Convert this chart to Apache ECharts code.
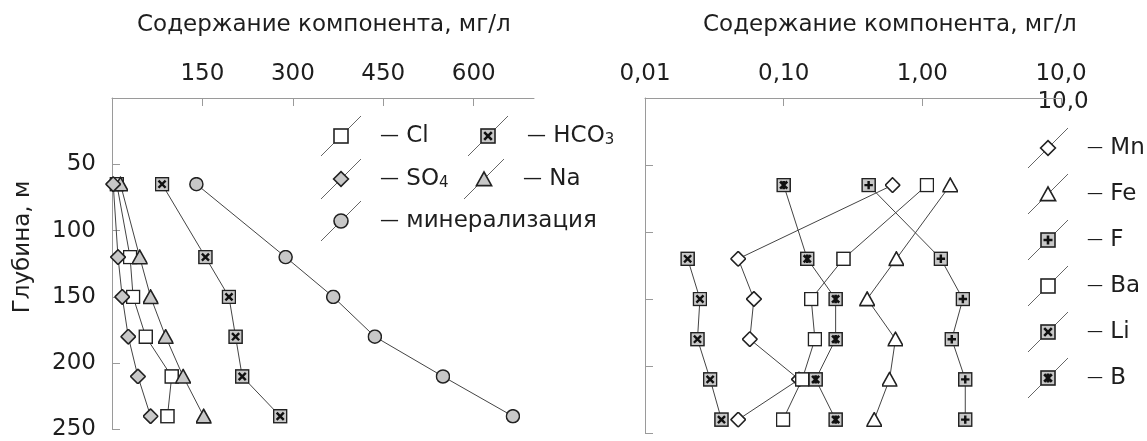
<!DOCTYPE html>
<html><head><meta charset="utf-8">
<script src="https://cdn.jsdelivr.net/npm/echarts@6/dist/echarts.min.js"></script>
<style>html,body{margin:0;padding:0;background:#fff}#c{width:1147px;height:441px}</style>
</head><body><div id="c"></div>
<script>
// ---- data ----
const depths = [65, 120, 150, 180, 210, 240];
const cl = [8, 30, 35, 56, 99, 92];
const so4 = [2, 10, 17, 27, 43, 64];
const na = [14, 46, 64, 89, 118, 152];
const hco3 = [83, 155, 194, 205, 216, 279];
const mineral = [140, 288, 367, 436, 549, 665];
const mn = [0.61, 0.047, 0.061, 0.057, 0.129, 0.047];
const fe = [1.59, 0.65, 0.40, 0.64, 0.58, 0.45];
const fl = [0.41, 1.36, 1.96, 1.63, 2.04, 2.04];
const ba = [1.08, 0.27, 0.158, 0.168, 0.136, 0.099];
const li = [null, 0.0203, 0.0249, 0.0239, 0.0295, 0.0356];
const bor = [0.10, 0.148, 0.237, 0.237, 0.170, 0.237];
const leftTicks = [150, 300, 450, 600];
const rightTicks = [0.01, 0.1, 1, 10];
const rightTickLabels = ['0,01', '0,10', '1,00', '10,0'];
const depthTicks = [50, 100, 150, 200, 250];

// ---- marker drawing (SVG icons) ----
const GRAY = '#c8c8c8', WHITE = '#ffffff', STK = '#222', SW = 1.6;
function shape(kind, cx, cy) {
  const sq = (fill) => `<rect x="${cx-7}" y="${cy-7}" width="14" height="14" fill="${fill}" stroke="${STK}" stroke-width="${SW}"/>`;
  const xm = `<path d="M${cx-3.8},${cy-3.8}L${cx+3.8},${cy+3.8}M${cx+3.8},${cy-3.8}L${cx-3.8},${cy+3.8}" stroke="#111" stroke-width="2.6"/>`;
  const pm = `<path d="M${cx},${cy-4.5}L${cx},${cy+4.5}M${cx-4.5},${cy}L${cx+4.5},${cy}" stroke="#111" stroke-width="2.6"/>`;
  const am = `<path d="M${cx-3.8},${cy-3.8}L${cx+3.8},${cy+3.8}M${cx+3.8},${cy-3.8}L${cx-3.8},${cy+3.8}M${cx},${cy-4.5}L${cx},${cy+4.5}" stroke="#111" stroke-width="2.8"/>`;
  const dia = (fill) => `<polygon points="${cx},${cy-7.4} ${cx+7.4},${cy} ${cx},${cy+7.4} ${cx-7.4},${cy}" fill="${fill}" stroke="${STK}" stroke-width="${SW}" stroke-linejoin="miter"/>`;
  const tri = (fill) => `<polygon points="${cx},${cy-7} ${cx+7.6},${cy+6.6} ${cx-7.6},${cy+6.6}" fill="${fill}" stroke="${STK}" stroke-width="${SW}"/>`;
  switch (kind) {
    case 'sqW': return sq(WHITE);
    case 'sqX': return sq(GRAY) + xm;
    case 'sqP': return sq(GRAY) + pm;
    case 'sqA': return sq(GRAY) + am;
    case 'diaG': return dia(GRAY);
    case 'diaW': return dia(WHITE);
    case 'triG': return tri(GRAY);
    case 'triW': return tri(WHITE);
    case 'cirG': return `<circle cx="${cx}" cy="${cy}" r="7" fill="${GRAY}" stroke="${STK}" stroke-width="${SW}"/>`;
  }
}
function uri(svg) { return 'image://data:image/svg+xml;charset=utf-8,' + encodeURIComponent(svg); }
function markerIcon(kind) {
  return uri(`<svg xmlns="http://www.w3.org/2000/svg" width="32" height="32" viewBox="0 0 16 16">${shape(kind, 8, 8)}</svg>`);
}
function legendIcon(kind) {
  return uri(`<svg xmlns="http://www.w3.org/2000/svg" width="108" height="80" viewBox="0 0 54 40"><line x1="0" y1="40" x2="40" y2="0" stroke="#666" stroke-width="1"/>${shape(kind, 20, 20)}</svg>`);
}

const FONT = '"DejaVu Sans", "Liberation Sans", Arial, sans-serif';
const FS = 23;
const TXT = '#1e1e1e';
const AX = '#9a9a9a';

function mk(name, vals, kind, gi, size) {
  const data = [];
  vals.forEach((v, i) => { if (v != null) data.push([v, depths[i]]); });
  return {
    name, type: 'line', xAxisIndex: gi, yAxisIndex: gi, data,
    symbol: markerIcon(kind), symbolSize: size || 15,
    lineStyle: { color: '#444', width: 1 },
    itemStyle: { color: '#888' },
    emphasis: { disabled: true }, silent: true, animation: false
  };
}
const kinds = { 'Cl': 'sqW', 'HCO3': 'sqX', 'SO4': 'diaG', 'Na': 'triG', 'минерализация': 'cirG',
  'Mn': 'diaW', 'Fe': 'triW', 'F': 'sqP', 'Ba': 'sqW', 'Li': 'sqX', 'B': 'sqA' };

function fmtName(n) {
  if (n === 'HCO3') return '{d|—} HCO{s|3}';
  if (n === 'SO4') return '{d|—} SO{s|4}';
  return '{d|—} ' + n;
}
function leg(names, left, top, orient, gap, dashSize) {
  return {
    data: names.map(n => ({ name: n, icon: legendIcon(kinds[n]) })),
    left, top, orient: orient || 'horizontal', itemGap: gap || 10,
    padding: 0, itemWidth: 54, itemHeight: 40, selectedMode: false,
    formatter: fmtName,
    textStyle: { fontSize: FS, color: TXT, fontFamily: FONT,
      rich: {
        s: { fontSize: 15, color: TXT, fontFamily: FONT, padding: [9, 0, 0, 0] },
        d: { fontSize: dashSize || 19, color: TXT, fontFamily: FONT }
      } }
  };
}

const axisCommon = {
  axisLine: { show: true, lineStyle: { color: AX, width: 1 } },
  axisTick: { show: true, inside: true, length: 8, lineStyle: { color: AX } },
  splitLine: { show: false },
  axisLabel: { fontSize: FS, color: TXT, fontFamily: FONT }
};

const chart = echarts.init(document.getElementById('c'));
chart.setOption({
  animation: false,
  backgroundColor: '#fff',
  title: [
    { text: 'Содержание компонента, мг/л', left: 137, top: 14, padding: 0,
      textStyle: { fontSize: FS, fontWeight: 'normal', color: TXT, fontFamily: FONT } },
    { text: 'Содержание компонента, мг/л', left: 703, top: 14, padding: 0,
      textStyle: { fontSize: FS, fontWeight: 'normal', color: TXT, fontFamily: FONT } }
  ],
  grid: [
    { left: 112, top: 98, width: 422, height: 335 },
    { left: 645, top: 98, width: 416, height: 335 }
  ],
  xAxis: [
    Object.assign({}, axisCommon, {
      type: 'value', gridIndex: 0, position: 'top', min: 0, max: 700, interval: 150,
      axisTick: Object.assign({}, axisCommon.axisTick, { customValues: leftTicks }),
      axisLabel: Object.assign({}, axisCommon.axisLabel, { margin: 12, customValues: leftTicks,
        formatter: v => leftTicks.indexOf(v) >= 0 ? String(v) : '' })
    }),
    Object.assign({}, axisCommon, {
      type: 'log', logBase: 10, gridIndex: 1, position: 'top', min: 0.01, max: 10,
      minorTick: { show: false },
      axisLabel: Object.assign({}, axisCommon.axisLabel, { margin: 12,
        formatter: v => { const i = rightTicks.findIndex(t => Math.abs(t - v) / t < 1e-6); return i >= 0 ? rightTickLabels[i] : ''; } })
    })
  ],
  yAxis: [
    Object.assign({}, axisCommon, {
      type: 'value', gridIndex: 0, inverse: true, min: 0, max: 250, interval: 50,
      axisLabel: Object.assign({}, axisCommon.axisLabel, { margin: 16,
        formatter: v => depthTicks.indexOf(v) >= 0 ? String(v) : '' })
    }),
    Object.assign({}, axisCommon, {
      type: 'value', gridIndex: 1, inverse: true, min: 0, max: 250, interval: 50,
      axisLabel: { show: false }
    })
  ],
  legend: [
    leg(['Cl'], 321, 116),
    leg(['HCO3'], 468, 116),
    leg(['SO4'], 321, 159),
    leg(['Na'], 464, 159),
    leg(['минерализация'], 321, 201),
    leg(['Mn', 'Fe', 'F', 'Ba', 'Li', 'B'], 1028, 128, 'vertical', 6, 16)
  ],
  graphic: [
    { type: 'text', x: 23, y: 247, rotation: Math.PI / 2,
      style: { text: 'Глубина, м', fontSize: FS, fill: TXT, fontFamily: FONT, align: 'center', verticalAlign: 'middle' } },
    { type: 'text', x: 1063, y: 102,
      style: { text: '10,0', fontSize: FS, fill: TXT, fontFamily: FONT, align: 'center', verticalAlign: 'middle' } }
  ],
  series: [
    mk('Cl', cl, 'sqW', 0),
    mk('Na', na, 'triG', 0, 16),
    mk('SO4', so4, 'diaG', 0, 16),
    mk('HCO3', hco3, 'sqX', 0),
    mk('минерализация', mineral, 'cirG', 0),
    mk('Mn', mn, 'diaW', 1, 16),
    mk('Fe', fe, 'triW', 1, 16),
    mk('F', fl, 'sqP', 1),
    mk('Ba', ba, 'sqW', 1),
    mk('Li', li, 'sqX', 1),
    mk('B', bor, 'sqA', 1)
  ]
});
</script>
</body></html>
